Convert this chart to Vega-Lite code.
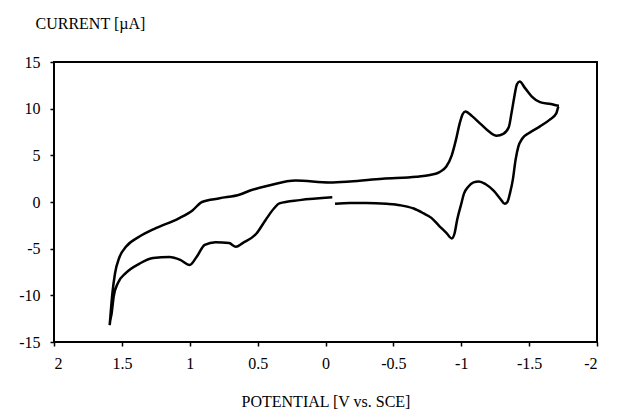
{
  "$schema": "https://vega.github.io/schema/vega-lite/v6.json",
  "width": 543,
  "height": 280,
  "autosize": {"type": "none"},
  "padding": {"left": 54, "top": 62, "right": 31, "bottom": 75},
  "background": "white",
  "config": {
    "font": "Liberation Serif, Times New Roman, serif",
    "view": {"stroke": "black", "strokeWidth": 2},
    "axis": {"grid": false, "domain": false, "tickColor": "black", "tickWidth": 1.5, "labelColor": "black", "titleColor": "black", "labelFont": "Liberation Serif, Times New Roman, serif", "titleFont": "Liberation Serif, Times New Roman, serif", "labelFontSize": 16, "titleFontSize": 16, "titleFontWeight": "normal"}
  },
  "data": {"values": [
    {"o": 1, "v": -0.07, "i": -0.2},
    {"o": 2, "v": -0.18, "i": -0.1},
    {"o": 3, "v": -0.30, "i": -0.1},
    {"o": 4, "v": -0.45, "i": -0.2},
    {"o": 5, "v": -0.55, "i": -0.35},
    {"o": 6, "v": -0.65, "i": -0.7},
    {"o": 7, "v": -0.72, "i": -1.2},
    {"o": 8, "v": -0.78, "i": -1.7},
    {"o": 9, "v": -0.84, "i": -2.6},
    {"o": 10, "v": -0.89, "i": -3.3},
    {"o": 11, "v": -0.93, "i": -3.9},
    {"o": 12, "v": -0.95, "i": -3.4},
    {"o": 13, "v": -0.97, "i": -1.9},
    {"o": 14, "v": -1.0, "i": -0.2},
    {"o": 15, "v": -1.02, "i": 0.9},
    {"o": 16, "v": -1.05, "i": 1.6},
    {"o": 17, "v": -1.09, "i": 2.1},
    {"o": 18, "v": -1.13, "i": 2.2},
    {"o": 19, "v": -1.18, "i": 1.9},
    {"o": 20, "v": -1.24, "i": 1.2},
    {"o": 21, "v": -1.29, "i": 0.3},
    {"o": 22, "v": -1.32, "i": -0.2},
    {"o": 23, "v": -1.34, "i": 0.0},
    {"o": 24, "v": -1.36, "i": 1.0},
    {"o": 25, "v": -1.38, "i": 2.4},
    {"o": 26, "v": -1.40, "i": 4.5},
    {"o": 27, "v": -1.42, "i": 5.9},
    {"o": 28, "v": -1.45, "i": 6.8},
    {"o": 29, "v": -1.50, "i": 7.4},
    {"o": 30, "v": -1.58, "i": 8.1},
    {"o": 31, "v": -1.65, "i": 8.8},
    {"o": 32, "v": -1.70, "i": 9.5},
    {"o": 33, "v": -1.72, "i": 10.3},
    {"o": 34, "v": -1.66, "i": 10.5},
    {"o": 35, "v": -1.58, "i": 10.7},
    {"o": 36, "v": -1.52, "i": 11.3},
    {"o": 37, "v": -1.47, "i": 12.2},
    {"o": 38, "v": -1.43, "i": 12.9},
    {"o": 39, "v": -1.41, "i": 12.6},
    {"o": 40, "v": -1.39, "i": 11.2},
    {"o": 41, "v": -1.37, "i": 9.5},
    {"o": 42, "v": -1.35, "i": 8.0},
    {"o": 43, "v": -1.31, "i": 7.3},
    {"o": 44, "v": -1.26, "i": 7.1},
    {"o": 45, "v": -1.20, "i": 7.6},
    {"o": 46, "v": -1.14, "i": 8.4},
    {"o": 47, "v": -1.08, "i": 9.2},
    {"o": 48, "v": -1.03, "i": 9.7},
    {"o": 49, "v": -1.01, "i": 9.4},
    {"o": 50, "v": -0.99, "i": 8.5},
    {"o": 51, "v": -0.96, "i": 6.6},
    {"o": 52, "v": -0.93, "i": 5.0},
    {"o": 53, "v": -0.89, "i": 3.8},
    {"o": 54, "v": -0.84, "i": 3.2},
    {"o": 55, "v": -0.77, "i": 2.9},
    {"o": 56, "v": -0.67, "i": 2.7},
    {"o": 57, "v": -0.42, "i": 2.5},
    {"o": 58, "v": -0.18, "i": 2.2},
    {"o": 59, "v": -0.03, "i": 2.1},
    {"o": 60, "v": 0.22, "i": 2.3},
    {"o": 61, "v": 0.41, "i": 1.8},
    {"o": 62, "v": 0.56, "i": 1.2},
    {"o": 63, "v": 0.63, "i": 0.8},
    {"o": 64, "v": 0.78, "i": 0.4},
    {"o": 65, "v": 0.91, "i": 0.0},
    {"o": 66, "v": 0.98, "i": -0.9},
    {"o": 67, "v": 1.08, "i": -1.75},
    {"o": 68, "v": 1.25, "i": -2.8},
    {"o": 69, "v": 1.37, "i": -3.7},
    {"o": 70, "v": 1.47, "i": -4.8},
    {"o": 71, "v": 1.52, "i": -6.0},
    {"o": 72, "v": 1.55, "i": -7.6},
    {"o": 73, "v": 1.57, "i": -9.8},
    {"o": 74, "v": 1.59, "i": -13.2},
    {"o": 75, "v": 1.575, "i": -11.9},
    {"o": 76, "v": 1.56, "i": -10.1},
    {"o": 77, "v": 1.53, "i": -8.7},
    {"o": 78, "v": 1.47, "i": -7.6},
    {"o": 79, "v": 1.37, "i": -6.6},
    {"o": 80, "v": 1.27, "i": -6.0},
    {"o": 81, "v": 1.15, "i": -5.9},
    {"o": 82, "v": 1.07, "i": -6.2},
    {"o": 83, "v": 1.00, "i": -6.75},
    {"o": 84, "v": 0.95, "i": -5.9},
    {"o": 85, "v": 0.89, "i": -4.6},
    {"o": 86, "v": 0.81, "i": -4.3},
    {"o": 87, "v": 0.71, "i": -4.4},
    {"o": 88, "v": 0.66, "i": -4.8},
    {"o": 89, "v": 0.61, "i": -4.4},
    {"o": 90, "v": 0.51, "i": -3.4},
    {"o": 91, "v": 0.44, "i": -1.9},
    {"o": 92, "v": 0.38, "i": -0.7},
    {"o": 93, "v": 0.34, "i": -0.15},
    {"o": 94, "v": 0.19, "i": 0.2},
    {"o": 95, "v": -0.05, "i": 0.5}
  ]},
  "mark": {"type": "line", "color": "black", "strokeWidth": 2.5, "interpolate": "monotone"},
  "encoding": {
    "order": {"field": "o", "type": "quantitative"},
    "x": {
      "field": "v", "type": "quantitative",
      "scale": {"domain": [-2, 2], "reverse": true, "nice": false, "zero": false},
      "axis": {"values": [-2, -1.5, -1, -0.5, 0, 0.5, 1, 1.5, 2], "labelExpr": "'' + datum.value", "tickSize": 4, "labelPadding": 9, "title": "POTENTIAL [V  vs. SCE]", "titlePadding": 22}
    },
    "y": {
      "field": "i", "type": "quantitative",
      "scale": {"domain": [-15, 15], "nice": false, "zero": false},
      "axis": {"values": [-15, -10, -5, 0, 5, 10, 15], "labelExpr": "'' + datum.value", "tickSize": 4, "labelPadding": 10, "title": "CURRENT [µA]", "titleAngle": 0, "titleAlign": "left", "titleBaseline": "alphabetic", "titleX": -19, "titleY": -34}
    }
  }
}
